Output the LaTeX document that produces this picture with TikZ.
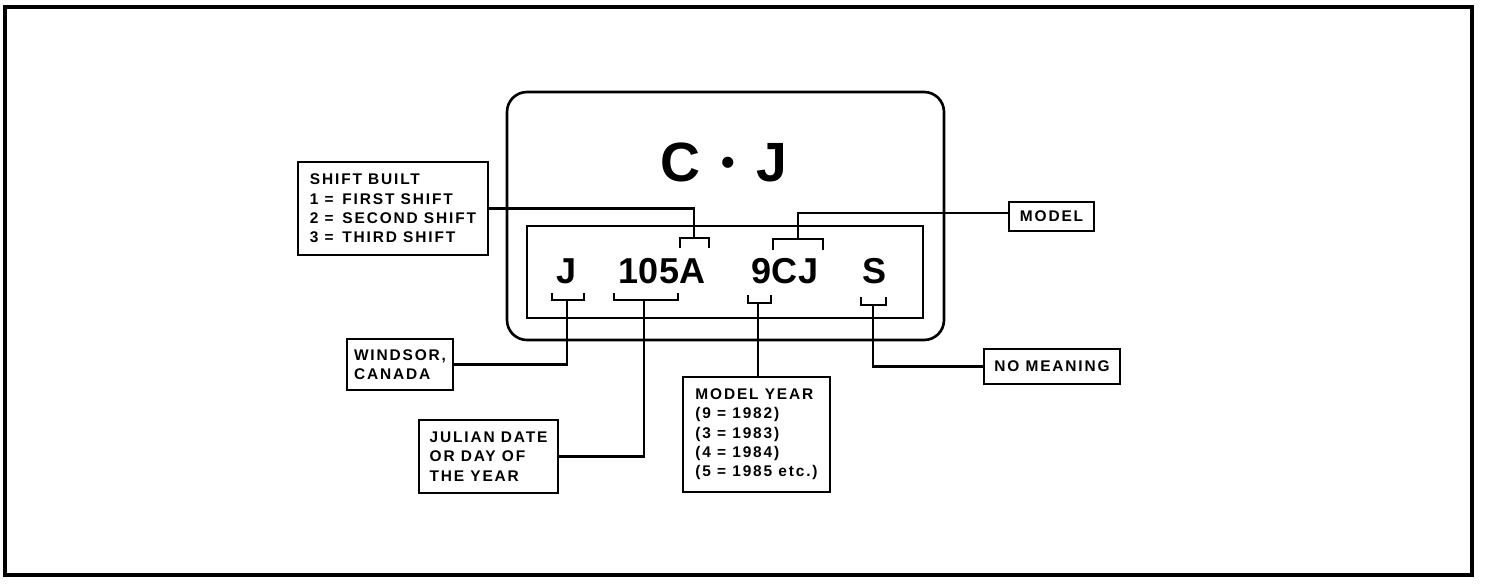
\documentclass[tikz,border=0pt]{standalone}
\usepackage{fontspec}
\setmainfont{Liberation Sans}
\newfontfamily\boxfont[LetterSpace=12]{Liberation Sans}
\tikzset{
	box/.style = {draw, line width = 1.5pt, align = left, inner sep = 0pt,
		font = {\boxfont\bfseries\fontsize{8.8}{11}\selectfont}},
	code/.style = {inner sep = 0pt, font = {\bfseries\fontsize{20.5}{22}\selectfont}},
	bracket/.style = {line width = 1.5pt}
}
\begin{document}
\begin{tikzpicture}[x = 0.02cm, y = -0.02cm, line width = 1.5pt]
		\useasboundingbox (0,0) rectangle (1504,588);
		\draw [line width = 2pt] (5,7) rectangle (1472,575);
		% plate and tag
		\draw [rounded corners = 0.4cm] (507,92) rectangle (944,340);
		\draw (527,226) rectangle (923,318);
		\node [inner sep = 0pt, font = {\bfseries\fontsize{31.5}{32}\selectfont}] (title) at (724,162)
			{C\hspace{12pt}\raisebox{3pt}{\fontsize{22}{22}\selectfont\textbullet}\hspace{12pt}J};
		\node [code] (cJ) at (567,271) {J};
		\node [code] (cDay) at (662,271) {105A};
		\node [code] (cModel) at (785,271) {9CJ};
		\node [code] (cS) at (874,271) {S};
		% brackets
		\draw [bracket] (552,293) |- (584,300) -- (584,293);
		\draw [bracket] (614,293) |- (678,300) -- (678,293);
		\draw [bracket] (748,295) |- (771,303) -- (771,295);
		\draw [bracket] (861,297) |- (886,305) -- (886,297);
		\draw [bracket] (680,248) |- (709,238) -- (709,248);
		\draw [bracket] (773,250) |- (823,239) -- (823,250);
		\coordinate (bJ) at (567,300);
		\coordinate (bDay) at (644,300);
		\coordinate (bYear) at (758,303);
		\coordinate (bS) at (873,305);
		\coordinate (bShift) at (694,238);
		\coordinate (bModel) at (798,239);
		% label boxes
		\node [box, minimum width = 3.8cm, minimum height = 1.86cm] (shift) at (393,208.5)
			{SHIFT BUILT\\1 = \,FIRST SHIFT\\2 = \,SECOND SHIFT\\3 = \,THIRD SHIFT};
		\node [box, minimum width = 1.7cm, minimum height = 0.58cm] (model) at (1051.5,216.5) {MODEL};
		\node [box, minimum width = 2.72cm, minimum height = 0.7cm] (nomean) at (1052,366.5) {NO MEANING};
		\node [box, minimum width = 2.94cm, minimum height = 2.3cm] (myear) at (756.5,434.5)
			{MODEL YEAR\\(9 = 1982)\\(3 = 1983)\\(4 = 1984)\\(5 = 1985 etc.)};
		\node [box, minimum width = 2.12cm, minimum height = 1.02cm] (windsor) at (400,364.5) {WINDSOR,\\CANADA};
		\node [box, minimum width = 2.78cm, minimum height = 1.46cm] (julian) at (488.5,456.5)
			{JULIAN DATE\\OR DAY OF\\THE YEAR};
		% connectors
		\draw (shift.east) -| (bShift);
		\draw ([yshift = 0.07cm]model.west) -| (bModel);
		\draw (bJ) |- (windsor.east);
		\draw (bDay) |- (julian.east);
		\draw (bYear) -- (bYear |- myear.north);
		\draw (bS) |- (nomean.west);
	\end{tikzpicture}
\end{document}
